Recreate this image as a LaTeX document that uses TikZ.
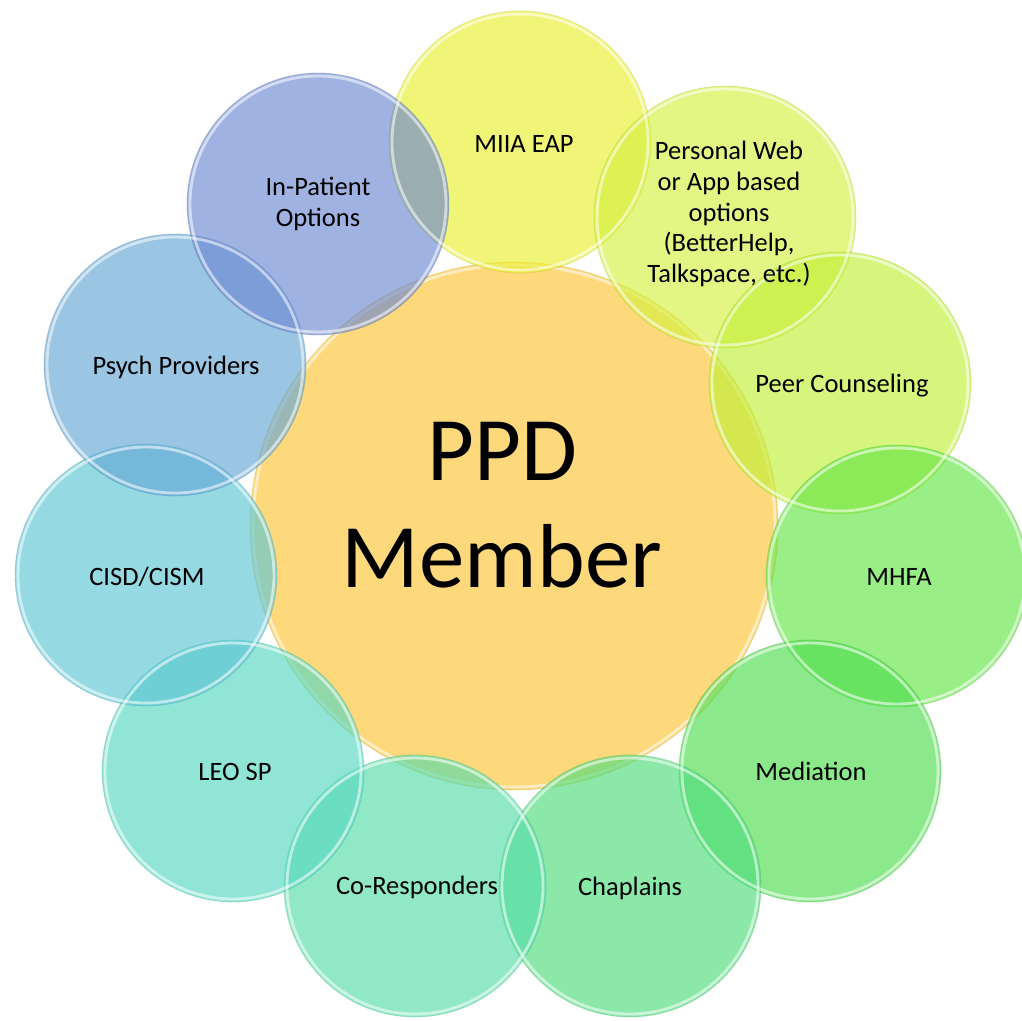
\documentclass[tikz,border=0pt]{standalone}
\usepackage{fontspec}
\setmainfont{Carlito}
\begin{document}
% colours of the discs (drawn semi-transparent over white)
\definecolor{cCenter}{RGB}{252,198,55}
\definecolor{cMiia}{RGB}{232,240,47}
\definecolor{cWeb}{RGB}{213,240,63}
\definecolor{cPeer}{RGB}{193,240,55}
\definecolor{cMhfa}{RGB}{101,229,70}
\definecolor{cMed}{RGB}{78,220,78}
\definecolor{cChap}{RGB}{78,220,124}
\definecolor{cCoR}{RGB}{86,220,170}
\definecolor{cLeo}{RGB}{86,216,193}
\definecolor{cCisd}{RGB}{93,198,213}
\definecolor{cPsych}{RGB}{101,167,213}
\definecolor{cInPat}{RGB}{109,137,209}
\begin{tikzpicture}[x=0.02cm, y=-0.02cm,
  bubble/.style={circle, inner sep=0pt, fill=#1, fill opacity=0.65,
    draw=#1!75!black, draw opacity=0.25, line width=0.5pt, minimum size=5.24cm},
  rim/.style={draw=white, draw opacity=0.55, line width=1.6pt},
  label/.style={font=\fontsize{15.1}{17.5}\selectfont, text=black, align=center, inner sep=0pt},
]
\useasboundingbox (0,0) rectangle (1022,1021);
\fill[white] (0,0) rectangle (1022,1021);

% central disc
\node[bubble=cCenter, minimum size=10.56cm] (ppd) at (514,526) {};
\draw[rim] (ppd) circle (261);

% surrounding discs
\node[bubble=cMiia]  (miia)  at (520,142) {};
\node[bubble=cWeb]   (web)   at (725,217) {};
\node[bubble=cPeer]  (peer)  at (840,383) {};
\node[bubble=cMhfa]  (mhfa)  at (897,576) {};
\node[bubble=cMed]   (med)   at (810,771) {};
\node[bubble=cChap]  (chap)  at (630,886) {};
\node[bubble=cCoR]   (cor)   at (415,886) {};
\node[bubble=cLeo]   (leo)   at (233,771) {};
\node[bubble=cCisd]  (cisd)  at (146,575) {};
\node[bubble=cPsych] (psych) at (175,365) {};
\node[bubble=cInPat] (inpat) at (318,204) {};

% glassy white rims
\foreach \n in {miia,web,peer,mhfa,med,chap,cor,leo,cisd,psych,inpat}
  \draw[rim] (\n) circle (128);

% labels
\node[font=\fontsize{51.7}{60.9}\selectfont, align=center, inner sep=0pt] (ppdtext) at (502,505) {PPD\\Member};
\node[label, anchor=base] (miiatext)  at (524,152) {MIIA EAP};
\node[label] (webtext) at (729,214) {Personal Web\\or App based\\options\\(BetterHelp,\\Talkspace, etc.)};
\node[label, anchor=base] (peertext)  at (842,392) {Peer Counseling};
\node[label, anchor=base] (mhfatext)  at (899,585) {MHFA};
\node[label, anchor=base] (medtext)   at (811,780) {Mediation};
\node[label, anchor=base] (chaptext)  at (630,895) {Chaplains};
\node[label, anchor=base] (cortext)   at (417,894) {Co-Responders};
\node[label, anchor=base] (leotext)   at (235,780) {LEO SP};
\node[label, anchor=base] (cisdtext)  at (147,585) {CISD/CISM};
\node[label, anchor=base] (psychtext) at (176,374) {Psych Providers};
\node[label] (inpattext) at (318,204) {In-Patient\\Options};
\end{tikzpicture}
\end{document}
